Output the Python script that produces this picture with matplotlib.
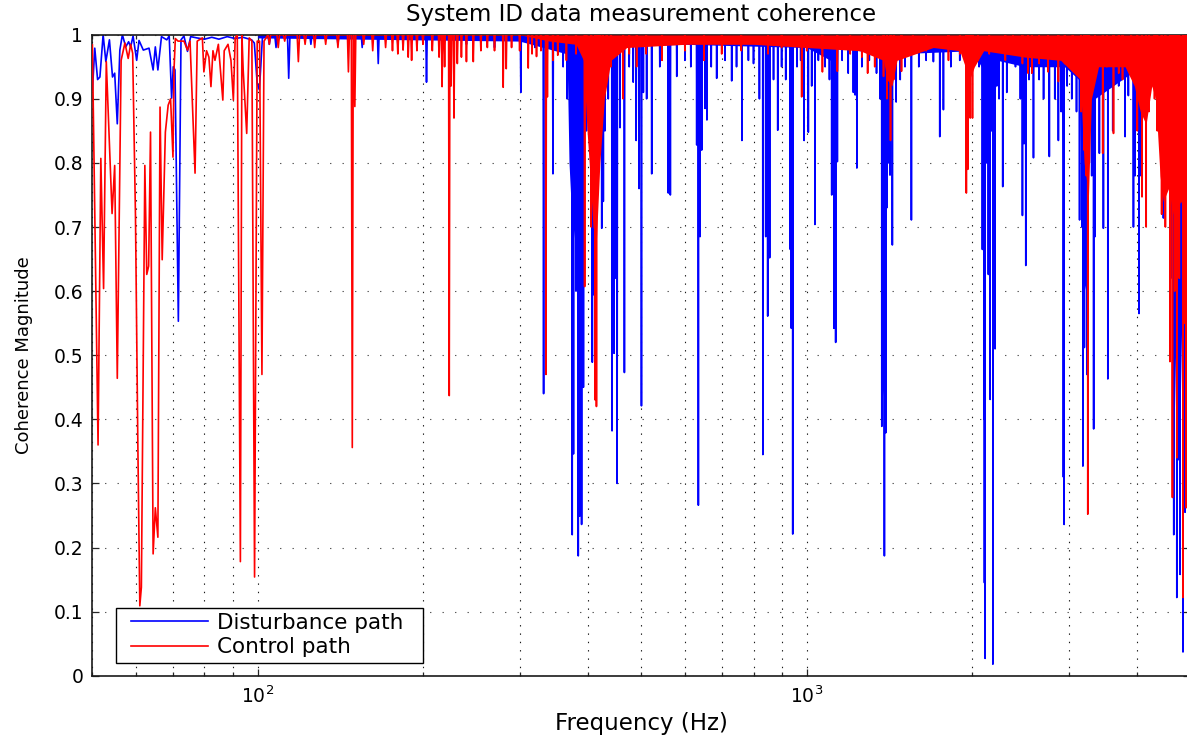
import numpy as np
import matplotlib
matplotlib.use("Agg")
import matplotlib.pyplot as plt
from matplotlib.patches import Rectangle
from matplotlib.ticker import LogLocator, FuncFormatter, NullFormatter

plt.rcParams['font.family'] = ['DejaVu Sans']
plt.rcParams['mathtext.fontset'] = 'dejavusans'
plt.rcParams['lines.scale_dashes'] = False

BLUE = '#0000ff'
RED = '#ff0000'

# ---------------------------------------------------------------------------
# Disturbance path: densely sampled low-frequency section (Hz, coherence)
dist_low_f = [50.0, 50.5, 51.1, 51.6, 52.3, 52.9, 53.7, 54.4, 54.9, 55.5,
              56.1, 56.7, 57.5, 58.2, 58.7, 59.3, 60.2, 60.8, 61.9, 63.4,
              64.5, 65.1, 65.8, 66.8, 68.3, 69.0, 69.7, 70.2, 70.7, 71.7,
              72.5, 73.4, 74.5, 75.5, 77.5, 80.0, 82.5, 85.0, 88.0, 91.0,
              94.0, 97.5, 98.6, 99.8, 100.7, 101.3, 102.0]
dist_low_c = [0.913, 0.979, 0.930, 0.934, 1.0, 0.958, 0.992, 0.934, 0.940, 0.861,
              0.976, 1.0, 0.981, 0.989, 0.981, 0.998, 0.960, 0.991, 0.976, 0.979,
              0.945, 0.981, 0.945, 0.997, 0.992, 0.998, 0.901, 0.950, 0.945, 0.553,
              0.992, 0.998, 0.974, 0.997, 0.995, 0.993, 0.996, 0.993, 0.997, 0.994,
              0.996, 0.992, 0.987, 0.924, 0.914, 0.95, 0.995]

# Disturbance path: coherence drops above 100 Hz
dist_dip_f = [105, 108, 113.9, 125, 140, 155, 165.8, 180, 203, 240,
              270, 301.5, 320, 331.7, 345, 360, 366, 374, 376, 380,
              383.6, 386, 389, 392, 397, 406.9, 409.9, 415, 423.3, 426.1,
              429, 435, 442, 445.7, 449.4, 451.5, 457, 465.5, 475, 483,
              489, 495, 500, 504, 511, 522, 540, 559.6, 564.4, 579.8,
              600, 615, 630.4, 634.8, 639.2, 643.7, 652.8, 658, 670, 685.5,
              710, 730, 745, 762, 783, 800, 820, 832, 842, 849,
              856, 870, 885.5, 900, 915.7, 933.5, 937.5, 943, 960, 975,
              989, 1006.7, 1021, 1035, 1050, 1080, 1100, 1110.5, 1121, 1129,
              1137, 1160, 1190, 1216, 1225, 1234, 1260, 1300, 1340, 1360,
              1370, 1385, 1393, 1399, 1410, 1418, 1432, 1455, 1480, 1510,
              1551, 1600, 1650, 1701, 1747, 1774, 1830, 1900, 2000, 2060,
              2089, 2104, 2107, 2113, 2125, 2142, 2158, 2170, 2183, 2203,
              2219, 2240, 2275, 2314, 2400, 2450, 2471, 2488, 2506, 2540,
              2588, 2650, 2700, 2766, 2830, 2873, 2906, 2934, 2943, 2980,
              3039, 3100, 3140, 3170, 3184, 3204, 3237, 3270, 3304, 3331,
              3350, 3412, 3470, 3535, 3609, 3700, 3800, 3853, 3936, 3963,
              4029, 4047, 4104, 4200, 4310, 4400, 4463, 4496, 4558, 4603,
              4661, 4687, 4721, 4752, 4786, 4820, 4845, 4887, 4909, 4950]
dist_dip_c = [0.985, 0.98, 0.932, 0.985, 0.985, 0.98, 0.955, 0.985, 0.926, 0.985,
              0.98, 0.91, 0.98, 0.44, 0.783, 0.95, 0.9, 0.22, 0.346, 0.6,
              0.187, 0.249, 0.236, 0.45, 0.85, 0.489, 0.594, 0.92, 0.698, 0.74,
              0.85, 0.9, 0.382, 0.503, 0.62, 0.30, 0.855, 0.473, 0.95, 0.926,
              0.835, 0.76, 0.421, 0.91, 0.9, 0.783, 0.95, 0.753, 0.75, 0.935,
              0.96, 0.95, 0.828, 0.266, 0.685, 0.82, 0.885, 0.867, 0.95, 0.932,
              0.96, 0.928, 0.95, 0.835, 0.96, 0.955, 0.9, 0.345, 0.685, 0.561,
              0.652, 0.93, 0.851, 0.95, 0.93, 0.665, 0.542, 0.221, 0.95, 0.96,
              0.835, 0.848, 0.92, 0.704, 0.96, 0.95, 0.93, 0.75, 0.542, 0.52,
              0.802, 0.96, 0.94, 0.91, 0.906, 0.792, 0.95, 0.96, 0.94, 0.9,
              0.389, 0.187, 0.379, 0.73, 0.8, 0.781, 0.672, 0.895, 0.93, 0.95,
              0.711, 0.95, 0.96, 0.958, 0.841, 0.883, 0.95, 0.96, 0.96, 0.95,
              0.665, 0.4, 0.145, 0.027, 0.8, 0.626, 0.431, 0.85, 0.018, 0.51,
              0.92, 0.9, 0.763, 0.91, 0.95, 0.9, 0.718, 0.83, 0.64, 0.93,
              0.808, 0.93, 0.9, 0.81, 0.9, 0.835, 0.88, 0.31, 0.236, 0.92,
              0.90, 0.88, 0.711, 0.7, 0.327, 0.512, 0.47, 0.8, 0.78, 0.385,
              0.685, 0.815, 0.698, 0.463, 0.85, 0.92, 0.841, 0.905, 0.70, 0.78,
              0.565, 0.78, 0.91, 0.95, 0.96, 0.9, 0.714, 0.775, 0.945, 0.62,
              0.22, 0.515, 0.122, 0.337, 0.158, 0.73, 0.037, 0.255, 0.848, 0.9]

# Disturbance path: lower edge of the densely packed bands (Hz, coherence)
dist_band_f = [100, 300, 366, 369, 373, 378, 384, 390, 394, 398,
               600, 1000, 1105, 1110, 1125, 1135, 1140, 1360, 1366, 1372,
               1390, 1396, 1402, 1420, 1440, 2000, 2080, 2090, 2100, 2125,
               2160, 2200, 2225, 2500, 2900, 2930, 2950, 3130, 3170, 3200,
               3240, 3260, 3300, 3330, 3345, 3900, 4000, 4050, 4400, 4460,
               4500, 4600, 4650, 4700, 4780, 4830, 4870, 5000]
dist_band_lo = [0.995, 0.99, 0.97, 0.80, 0.72, 0.68, 0.70, 0.75, 0.90, 0.98,
                0.985, 0.98, 0.96, 0.80, 0.78, 0.90, 0.98, 0.97, 0.85, 0.45,
                0.42, 0.75, 0.96, 0.92, 0.97, 0.975, 0.95, 0.80, 0.70, 0.85,
                0.85, 0.90, 0.96, 0.95, 0.95, 0.75, 0.95, 0.93, 0.75, 0.60,
                0.62, 0.90, 0.90, 0.75, 0.90, 0.94, 0.90, 0.93, 0.95, 0.85,
                0.88, 0.80, 0.60, 0.40, 0.38, 0.60, 0.70, 0.80]

# ---------------------------------------------------------------------------
# Control path: densely sampled low-frequency section (Hz, coherence)
ctrl_low_f = [50.0, 51.2, 51.8, 52.4, 53.0, 54.3, 54.9, 55.5, 56.4, 57.3,
              58.1, 58.7, 59.2, 59.9, 60.5, 61.0, 61.4, 62.3, 62.8, 63.3,
              63.8, 64.5, 65.1, 65.8, 66.4, 67.0, 67.9, 68.7, 69.4, 70.1,
              70.4, 70.8, 71.6, 73.4, 74.5, 75.3, 76.9, 77.6, 79.3, 79.8,
              80.7, 81.5, 82.2, 82.9, 83.6, 84.8, 86.4, 86.9, 88.3, 89.4,
              90.3, 91.0, 91.8, 93.0, 93.6, 94.1, 95.5, 96.5, 97.6, 98.7,
              99.8, 100.8, 101.8, 102.7]
ctrl_low_c = [0.984, 0.36, 0.807, 0.604, 0.958, 0.721, 0.796, 0.464, 0.96, 0.987,
              0.963, 0.985, 0.971, 0.717, 0.36, 0.109, 0.138, 0.796, 0.626, 0.639,
              0.848, 0.19, 0.262, 0.216, 0.887, 0.649, 0.848, 0.89, 0.90, 0.809,
              0.945, 0.994, 0.99, 0.99, 0.976, 0.99, 0.784, 0.99, 0.995, 0.942,
              0.975, 0.965, 0.919, 0.975, 0.96, 0.985, 0.898, 0.975, 0.985, 0.96,
              0.898, 0.995, 1.0, 0.178, 1.0, 0.945, 0.846, 0.995, 0.99, 0.154,
              0.99, 0.99, 0.47, 0.99]

# Control path: coherence drops above 100 Hz
ctrl_dip_f = [105, 109, 112, 118.6, 122, 127, 133, 140, 146.3, 148.7,
              150.3, 156, 162, 171, 176, 180, 184, 188, 190.7, 195,
              200, 208, 214, 216.7, 219, 223.3, 225, 227.8, 231, 235,
              240, 247, 255, 262, 270, 280, 283.6, 290, 300, 311,
              316, 322, 328, 335, 337, 345, 352, 365, 380, 394,
              397, 405, 412, 414, 418, 420, 425, 432, 440, 463,
              475, 490, 510, 545, 600, 650, 700, 760, 850, 900,
              979, 1000, 1068, 1137, 1200, 1260, 1291, 1330, 1380, 1400,
              1421, 1440, 1488, 1560, 1650, 1812, 1900, 1953, 1965, 1985,
              2004, 2050, 2150, 2300, 2375, 2471, 2530, 2570, 2650, 2752,
              2873, 2950, 3050, 3160, 3200, 3230, 3250, 3270, 3350, 3460,
              3521, 3620, 3700, 3760, 3900, 4000, 4080, 4152, 4200, 4300,
              4350, 4430, 4500, 4588, 4635, 4680, 4721, 4770, 4845, 4880,
              4909, 4950]
ctrl_dip_c = [0.985, 0.98, 0.99, 0.958, 0.985, 0.98, 0.985, 0.98, 0.942, 0.356,
              0.888, 0.985, 0.975, 0.98, 0.975, 0.97, 0.976, 0.965, 0.96, 0.975,
              0.985, 0.975, 0.965, 0.919, 0.95, 0.437, 0.92, 0.87, 0.955, 0.965,
              0.958, 0.958, 0.975, 0.98, 0.975, 0.918, 0.947, 0.98, 0.975, 0.948,
              0.97, 0.966, 0.975, 0.47, 0.903, 0.96, 0.968, 0.96, 0.97, 0.607,
              0.915, 0.70, 0.43, 0.42, 0.80, 0.88, 0.90, 0.93, 0.95, 0.90,
              0.97, 0.95, 0.97, 0.96, 0.975, 0.96, 0.97, 0.975, 0.97, 0.98,
              0.903, 0.975, 0.942, 0.943, 0.97, 0.965, 0.94, 0.95, 0.935, 0.90,
              0.835, 0.93, 0.943, 0.97, 0.975, 0.96, 0.97, 0.753, 0.79, 0.87,
              0.87, 0.96, 0.97, 0.96, 0.97, 0.955, 0.94, 0.94, 0.955, 0.942,
              0.927, 0.955, 0.95, 0.88, 0.82, 0.78, 0.252, 0.80, 0.93, 0.815,
              0.95, 0.846, 0.94, 0.93, 0.94, 0.85, 0.747, 0.70, 0.88, 0.90,
              0.85, 0.72, 0.70, 0.49, 0.278, 0.60, 0.34, 0.62, 0.122, 0.55,
              0.262, 0.60]

# Control path: lower edge of the densely packed bands (Hz, coherence)
ctrl_band_f = [300, 340, 380, 392, 398, 403, 408, 414, 420, 428,
               440, 470, 600, 800, 1000, 1250, 1380, 1400, 1430, 1460,
               1700, 1900, 1980, 2020, 2100, 2500, 2900, 3150, 3200, 3260,
               3300, 3400, 3800, 3950, 4050, 4150, 4250, 4320, 4400, 4460,
               4560, 4650, 4800, 4900, 5000]
ctrl_band_lo = [1.0, 0.99, 0.985, 0.96, 0.85, 0.78, 0.70, 0.68, 0.80, 0.90,
                0.96, 0.98, 0.985, 0.985, 0.98, 0.975, 0.96, 0.93, 0.92, 0.96,
                0.98, 0.975, 0.93, 0.95, 0.975, 0.965, 0.96, 0.93, 0.80, 0.75,
                0.90, 0.95, 0.95, 0.92, 0.88, 0.86, 0.92, 0.90, 0.78, 0.74,
                0.76, 0.72, 0.74, 0.72, 0.72]

y_ticks = [0, 0.1, 0.2, 0.3, 0.4, 0.5, 0.6, 0.7, 0.8, 0.9, 1.0]


def coherence_trace(base_f, base_c, dip_f, dip_c, half_width=0.6, ceiling=1.0):
    """Join the sampled section with narrow drops that rise back to full coherence."""
    f = list(base_f)
    c = list(base_c)
    for i in np.argsort(dip_f):
        f += [dip_f[i] - half_width, dip_f[i], dip_f[i] + half_width]
        c += [ceiling, dip_c[i], ceiling]
    return np.asarray(f), np.asarray(c)


dist_f, dist_c = coherence_trace(dist_low_f, dist_low_c, dist_dip_f, dist_dip_c)
ctrl_f, ctrl_c = coherence_trace(ctrl_low_f, ctrl_low_c, ctrl_dip_f, ctrl_dip_c)

W, H = 1187, 738
AX_L, AX_R, AX_T, AX_B = 92.4, 1190.5, 34.7, 675.7   # axes box in pixels
fig = plt.figure(figsize=(W / 100, H / 100), dpi=100)
ax = fig.add_axes([AX_L / W, (H - AX_B) / H, (AX_R - AX_L) / W, (AX_B - AX_T) / H])


def ax_x(px):
    return (px - AX_L) / (AX_R - AX_L)


def ax_y(py):
    return (AX_B - py) / (AX_B - AX_T)


# disturbance path underneath, control path drawn over it
ax.fill_between(dist_band_f, dist_band_lo, 1.0, color=BLUE, lw=0, zorder=2.0)
ax.plot(dist_f, dist_c, color=BLUE, lw=1.2, zorder=2.2, label='Disturbance path')
ax.fill_between(ctrl_band_f, ctrl_band_lo, 1.0, color=RED, lw=0, zorder=2.4)
ax.plot(ctrl_f, ctrl_c, color=RED, lw=1.2, zorder=2.6, label='Control path')

ax.set_xscale('log')
ax.set_xlim(50, 5000)
ax.set_ylim(0, 1)

ax.set_yticks(y_ticks)
ax.yaxis.set_major_formatter(FuncFormatter(lambda v, p: f"{v:g}"))
ax.xaxis.set_major_locator(LogLocator(base=10, numticks=10))
ax.xaxis.set_minor_locator(LogLocator(base=10, subs=np.arange(2, 10), numticks=10))
ax.xaxis.set_minor_formatter(NullFormatter())

ax.tick_params(which='both', direction='in', top=True, right=True, width=0.9, color='0.15')
ax.tick_params(which='major', length=5, labelsize=13.5)
ax.tick_params(which='minor', length=3)
ax.tick_params(axis='y', pad=6.5)
ax.tick_params(axis='x', pad=7)

ax.set_axisbelow(True)
ax.yaxis.grid(True, which='major', color='0.35', lw=0.8, linestyle=(0, (1.0, 8.0)))
ax.xaxis.grid(True, which='both', color='0.1', lw=0.8, linestyle=(0, (1.0, 5.0)))

for sp in ax.spines.values():
    sp.set_linewidth(1.2)
    sp.set_color('0.1')

ax.set_title('System ID data measurement coherence', fontsize=16.5, pad=10)
ax.set_xlabel('Frequency (Hz)', fontsize=16.5)
ax.xaxis.set_label_coords(0.5, -0.056)
ax.set_ylabel('Coherence Magnitude', fontsize=13)
ax.yaxis.set_label_coords(-0.054, 0.5)

# Legend: white box with a black border, entries placed inside it
box = Rectangle((ax_x(115.7), ax_y(663.0)), ax_x(423.0) - ax_x(115.7),
                ax_y(607.7) - ax_y(663.0), transform=ax.transAxes,
                facecolor='white', edgecolor='black', lw=1.0, zorder=4)
ax.add_patch(box)
leg = ax.legend(loc='center left', bbox_to_anchor=(ax_x(131.0), ax_y(635.0)),
                borderaxespad=0, borderpad=0, fontsize=15.5, frameon=False,
                handlelength=3.58, handletextpad=0.42, labelspacing=0.2)
leg.set_zorder(5)

fig.savefig('out.png', dpi=100)
